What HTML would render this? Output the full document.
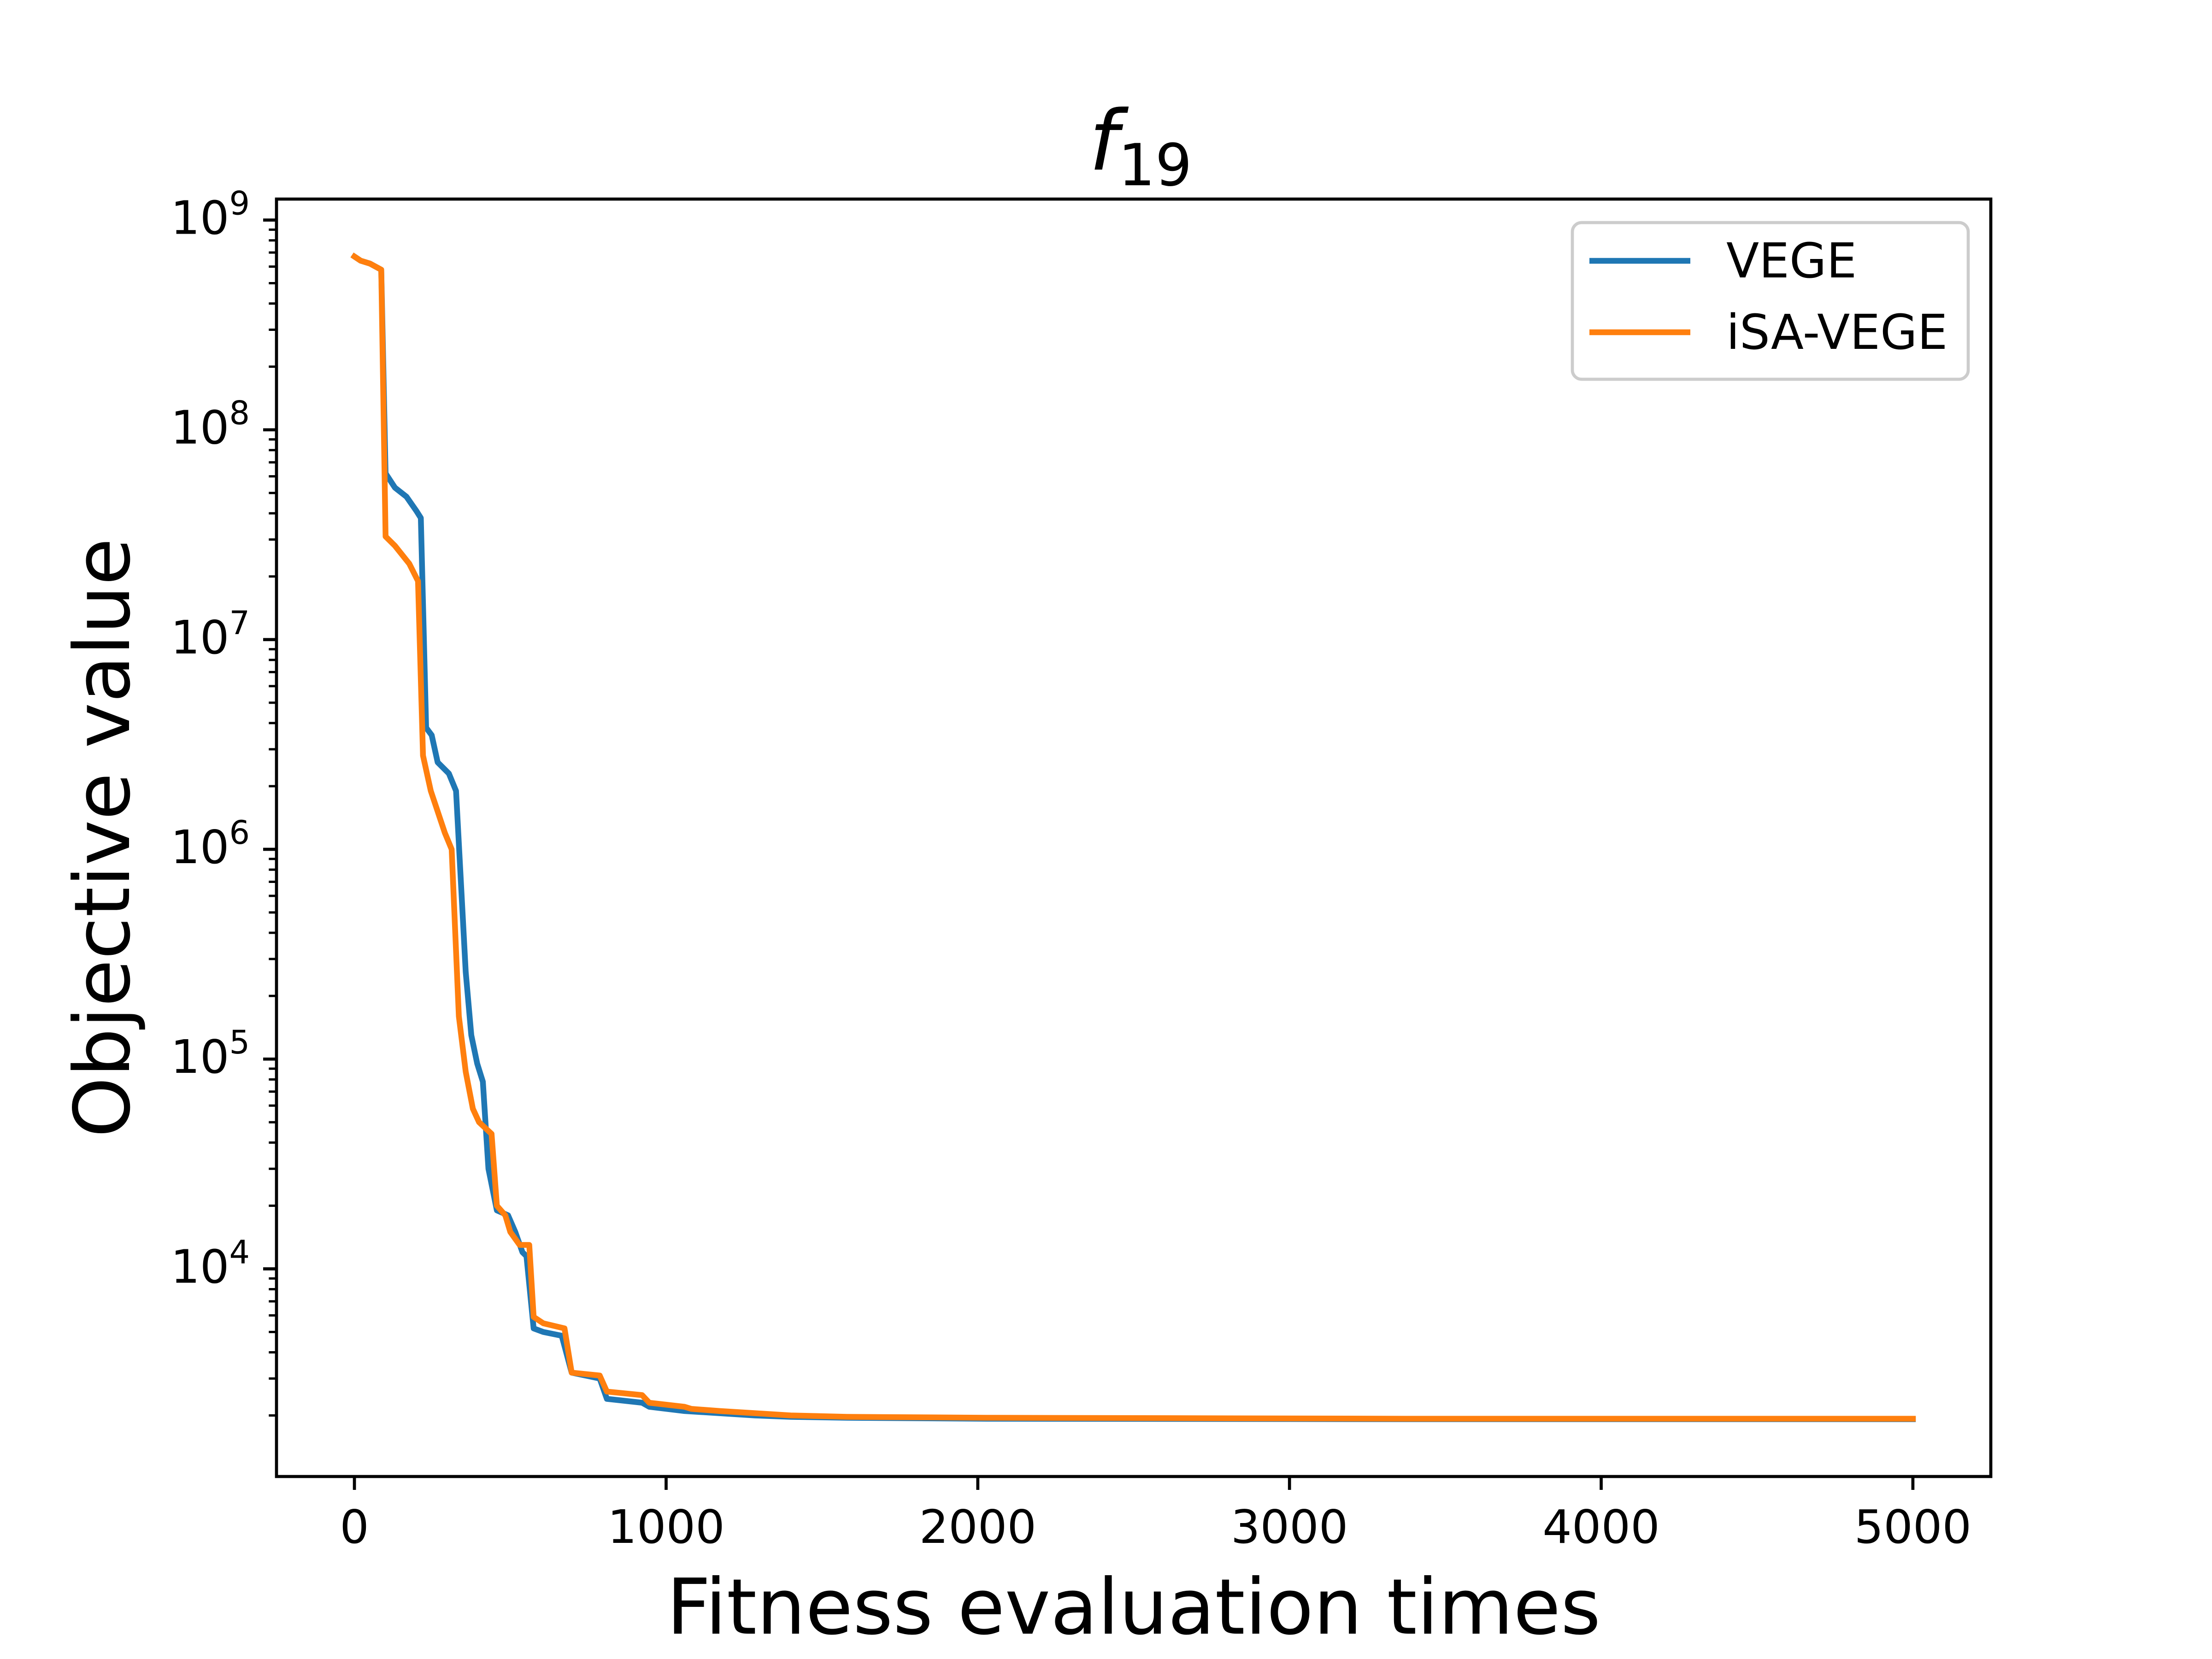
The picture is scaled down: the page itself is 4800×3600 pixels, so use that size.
<!DOCTYPE html>
<html><head><meta charset="utf-8"><style>
html,body{margin:0;padding:0;background:#fff;}
svg{display:block;font-family:"DejaVu Sans","Liberation Sans",sans-serif;}
</style></head><body>
<svg id="chart" width="4800" height="3600" viewBox="0 0 4800 3600" xmlns="http://www.w3.org/2000/svg">
<rect x="0" y="0" width="4800" height="3600" fill="#fff"/>
<defs><clipPath id="clip"><rect x="600" y="432" width="3720" height="2772"/></clipPath></defs>
<g id="plot" clip-path="url(#clip)"></g>
<g id="axes"></g>
<text x="2475" y="368" font-size="180" text-anchor="middle"><tspan font-style="italic">f</tspan><tspan font-size="126" dy="34">19</tspan></text>
<text x="2460" y="3545" font-size="167" text-anchor="middle">Fitness evaluation times</text>
<text transform="translate(280,1818) rotate(-90)" x="0" y="0" font-size="167" text-anchor="middle">Objective value</text>
<g transform="translate(-37,-6)">
<rect x="3449" y="489" width="859" height="340" rx="20" fill="#fff" fill-opacity="0.8" stroke="#cccccc" stroke-width="6.7"/>
<line x1="3486" y1="572" x2="3705" y2="572" stroke="#1f77b4" stroke-width="12.5"/>
<text x="3783" y="608" font-size="104">VEGE</text>
<line x1="3486" y1="727" x2="3705" y2="727" stroke="#ff7f0e" stroke-width="12.5"/>
<text x="3783" y="763" font-size="104">iSA-VEGE</text>
</g>
</svg>
<script>
const xTicks = [0, 1000, 2000, 3000, 4000, 5000];
const yDecades = [4, 5, 6, 7, 8, 9];
const vegeX = [0, 20, 50, 86, 100, 130, 167, 199, 213, 230, 248, 267, 303, 326, 357, 375, 394, 412, 430, 457, 493, 516, 539, 552, 575, 606, 665, 697, 787, 810, 923, 946, 1059, 1172, 1285, 1400, 1580, 2030, 3390, 5000];
const vegeY = [6.7e8, 6.4e8, 6.2e8, 5.8e8, 6.2e7, 5.3e7, 4.8e7, 4.1e7, 3.8e7, 3.8e6, 3.5e6, 2.6e6, 2.3e6, 1.9e6, 2.6e5, 1.3e5, 9.5e4, 7.8e4, 3.0e4, 1.9e4, 1.8e4, 1.5e4, 1.2e4, 1.15e4, 5.2e3, 5.0e3, 4.8e3, 3.2e3, 3.0e3, 2.4e3, 2.3e3, 2.2e3, 2.1e3, 2.05e3, 2.0e3, 1.97e3, 1.95e3, 1.93e3, 1.92e3, 1.92e3];
const isaX = [0, 20, 50, 86, 100, 130, 176, 204, 220, 245, 290, 312, 335, 357, 380, 400, 440, 457, 484, 500, 530, 561, 575, 606, 674, 697, 787, 810, 923, 946, 1059, 1081, 1172, 1285, 1400, 1580, 2030, 3390, 5000];
const isaY = [6.7e8, 6.4e8, 6.2e8, 5.8e8, 3.1e7, 2.8e7, 2.3e7, 1.9e7, 2.8e6, 1.9e6, 1.2e6, 1.0e6, 1.6e5, 8.7e4, 5.8e4, 5.0e4, 4.4e4, 2.0e4, 1.8e4, 1.5e4, 1.3e4, 1.3e4, 5.9e3, 5.5e3, 5.2e3, 3.2e3, 3.1e3, 2.6e3, 2.5e3, 2.3e3, 2.2e3, 2.15e3, 2.1e3, 2.05e3, 2.0e3, 1.97e3, 1.95e3, 1.93e3, 1.93e3];

const NS = 'http://www.w3.org/2000/svg';
const L = 600, R = 4320, T = 432, B = 3204;
const xMin = -250, xMax = 5250;
const yLogMin = 3.01, yLogMax = 9.10;
function sx(v){ return L + (v - xMin) / (xMax - xMin) * (R - L); }
function sy(v){ return B - (Math.log10(v) - yLogMin) / (yLogMax - yLogMin) * (B - T); }
function mk(tag, attrs, parent){
  const e = document.createElementNS(NS, tag);
  for (const k in attrs) e.setAttribute(k, attrs[k]);
  parent.appendChild(e);
  return e;
}
const plot = document.getElementById('plot');
const axes = document.getElementById('axes');

function drawSeries(xs, ys, color, name){
  const pts = xs.map((x, i) => sx(x).toFixed(1) + ',' + sy(ys[i]).toFixed(1)).join(' ');
  const pl = mk('polyline', {points: pts, fill: 'none', stroke: color, 'stroke-width': 12.5, 'stroke-linejoin': 'round', 'stroke-linecap': 'square'}, plot);
  
  
}
drawSeries(vegeX, vegeY, '#1f77b4', 'vege-line');
drawSeries(isaX, isaY, '#ff7f0e', 'isa-vege-line');

const frame = mk('rect', {x: L, y: T, width: R - L, height: B - T, fill: 'none', stroke: '#000', 'stroke-width': 6.7}, axes);



xTicks.forEach(v => {
  const x = sx(v);
  const t = mk('line', {x1: x, y1: B, x2: x, y2: B + 29, stroke: '#000', 'stroke-width': 6.7}, axes);
  
  
  const lb = mk('text', {x: x, y: 3348, 'font-size': 100, 'text-anchor': 'middle'}, axes);
  lb.textContent = String(v);
  
  
});

yDecades.forEach(d => {
  const y = sy(Math.pow(10, d));
  const t = mk('line', {x1: L - 29, y1: y, x2: L, y2: y, stroke: '#000', 'stroke-width': 6.7}, axes);
  
  
  const lb = mk('text', {x: 542, y: y + 30, 'font-size': 100, 'text-anchor': 'end'}, axes);
  const a = mk('tspan', {}, lb); a.textContent = '10';
  const b = mk('tspan', {'font-size': 70, dy: -42}, lb); b.textContent = String(d);
  
  
});
for (let d = 3; d <= 9; d++) {
  for (let m = 2; m <= 9; m++) {
    const v = m * Math.pow(10, d);
    const lv = Math.log10(v);
    if (lv < yLogMin || lv > yLogMax) continue;
    const y = sy(v);
    const t = mk('line', {x1: L - 16.7, y1: y, x2: L, y2: y, stroke: '#000', 'stroke-width': 5}, axes);
    
    
  }
}
</script>
</body></html>
